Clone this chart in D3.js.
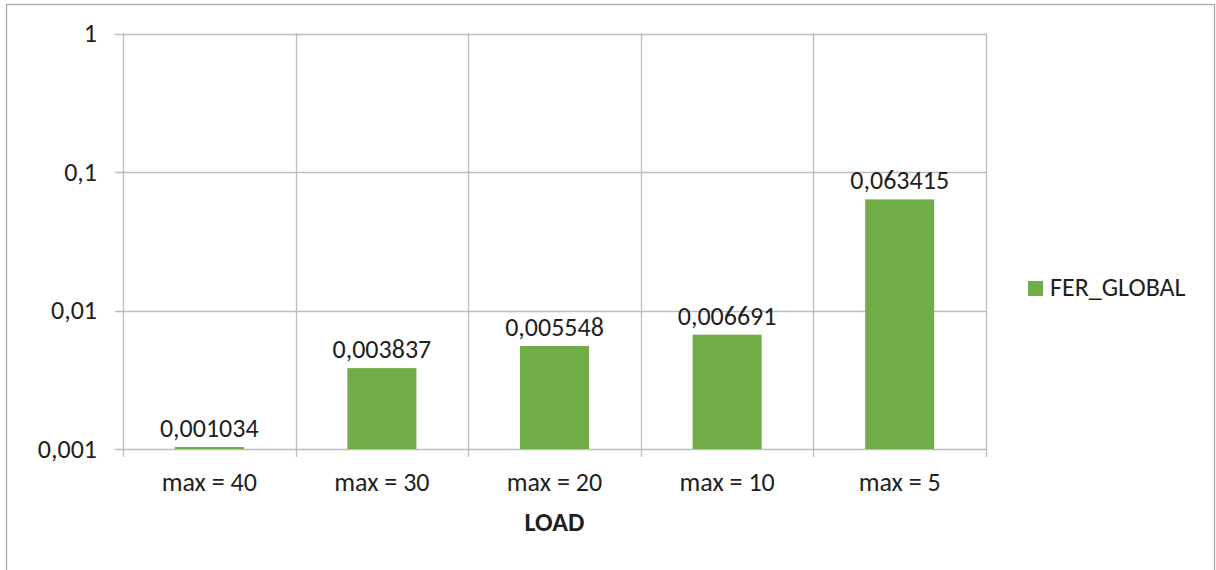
<!DOCTYPE html>
<html><head><meta charset="utf-8">
<script src="https://cdn.jsdelivr.net/npm/d3@7/dist/d3.min.js"></script>
<style>
html,body{margin:0;padding:0;background:#fff;}
svg text{font-family:Carlito,Calibri,'Open Sans',sans-serif;fill:#1f1f1f;}
</style></head>
<body>
<svg id="c" width="1216" height="570"></svg>
<script>
const categories = ["max = 40","max = 30","max = 20","max = 10","max = 5"];
const values = [0.001034,0.003837,0.005548,0.006691,0.063415];
const valueLabels = ["0,001034","0,003837","0,005548","0,006691","0,063415"];
const yTicks = [0.001,0.01,0.1,1];
const yTickLabels = ["0,001","0,01","0,1","1"];
const seriesName = "FER_GLOBAL";
const axisTitle = "LOAD";

const svg = d3.select("#c");
const L = 123, R = 986, T = 33.5, B = 449;
const grid = "#bdbdbd", green = "#70ad47";
const fs = 26;

svg.append("rect").attr("x",6.5).attr("y",4.5).attr("width",1208).attr("height",600)
  .attr("fill","none").attr("stroke","#a8a8a8").attr("stroke-width",1.3);

const x = d3.scaleBand().domain(categories).range([L,R]).padding(0);
const y = d3.scaleLog().domain([0.001,1]).range([B,T]);

// horizontal gridlines + left ticks
svg.append("g").selectAll("line").data(yTicks).join("line")
  .attr("x1",L-8).attr("x2",R).attr("y1",d=>Math.round(y(d))+0.5).attr("y2",d=>Math.round(y(d))+0.5)
  .attr("stroke",grid).attr("stroke-width",1.3);

// vertical gridlines + bottom ticks
const bounds = categories.map(c=>x(c)).concat([R]);
svg.append("g").selectAll("line").data(bounds).join("line")
  .attr("x1",d=>Math.round(d)+0.5).attr("x2",d=>Math.round(d)+0.5)
  .attr("y1",T).attr("y2",B+8)
  .attr("stroke",grid).attr("stroke-width",1.3);

// y labels
svg.append("g").selectAll("text").data(yTicks).join("text")
  .attr("x",97).attr("y",d=>y(d)).attr("dy","0.33em").attr("text-anchor","end")
  .attr("font-size",fs).text((d,i)=>yTickLabels[i]);

// bars
const bw = x.bandwidth()*0.4;
svg.append("g").selectAll("rect").data(values).join("rect")
  .attr("x",(d,i)=>x(categories[i])+x.bandwidth()/2-bw/2)
  .attr("width",bw)
  .attr("y",d=>y(d)).attr("height",d=>B-y(d)).attr("fill",green);

// value labels
svg.append("g").selectAll("text").data(values).join("text")
  .attr("x",(d,i)=>x(categories[i])+x.bandwidth()/2)
  .attr("y",d=>y(d)-10).attr("text-anchor","middle").attr("font-size",fs)
  .text((d,i)=>valueLabels[i]);

// category labels
svg.append("g").selectAll("text").data(categories).join("text")
  .attr("x",d=>x(d)+x.bandwidth()/2).attr("y",491).attr("text-anchor","middle")
  .attr("font-size",fs).text(d=>d);

// axis title
svg.append("text").attr("x",(L+R)/2).attr("y",531).attr("text-anchor","middle")
  .attr("font-size",fs).attr("font-weight","bold").text(axisTitle);

// legend
svg.append("rect").attr("x",1028).attr("y",281).attr("width",15).attr("height",15).attr("fill",green);
svg.append("text").attr("x",1050).attr("y",296).attr("font-size",fs).text(seriesName);
</script>
</body></html>
